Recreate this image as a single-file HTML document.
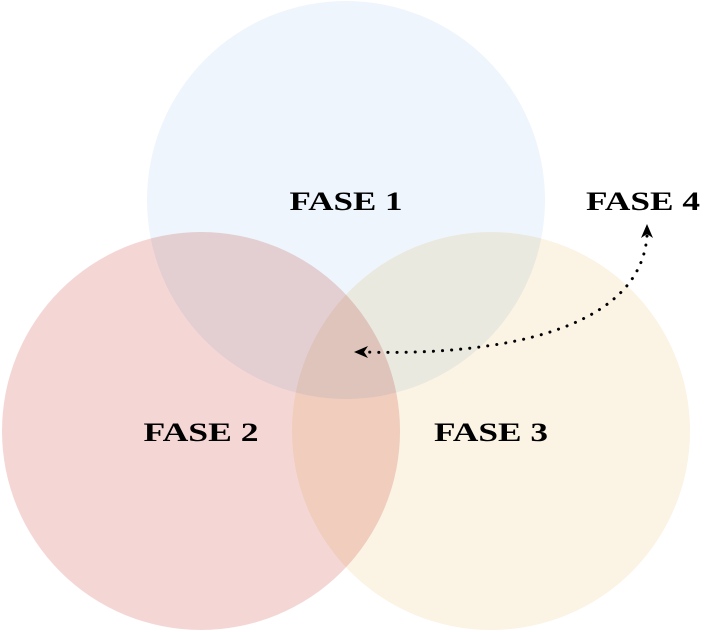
<!DOCTYPE html>
<html><head><style>body{margin:0;background:#fff}svg{display:block}</style></head>
<body>
<svg width="706" height="632" viewBox="0 0 706 632" xmlns="http://www.w3.org/2000/svg">
<g style="isolation:isolate">
<circle cx="346" cy="200" r="199" fill="#EEF5FC" style="mix-blend-mode:multiply"/>
<circle cx="201" cy="431" r="199" fill="#F4D7D5" style="mix-blend-mode:multiply"/>
<circle cx="491" cy="431" r="199" fill="#FBF3E3" style="mix-blend-mode:multiply"/>
</g>
<g font-family="Liberation Serif, serif" font-weight="bold" font-size="26" text-anchor="middle" fill="#000">
<text x="346" y="210" textLength="113" lengthAdjust="spacingAndGlyphs">FASE 1</text>
<text x="201" y="441" textLength="115" lengthAdjust="spacingAndGlyphs">FASE 2</text>
<text x="491" y="441" textLength="114" lengthAdjust="spacingAndGlyphs">FASE 3</text>
<text x="643" y="210" textLength="114" lengthAdjust="spacingAndGlyphs">FASE 4</text>
</g>
<path d="M647,236 C640,330 500,356 364,352" fill="none" stroke="#000" stroke-width="3" stroke-dasharray="0.1 9" stroke-linecap="round"/>
<path d="M647,224 L641,238 L647,234 L653,238 Z" fill="#000"/>
<path d="M354,352 L368,346 L364,352 L368,358 Z" fill="#000"/>
</svg>
</body></html>
